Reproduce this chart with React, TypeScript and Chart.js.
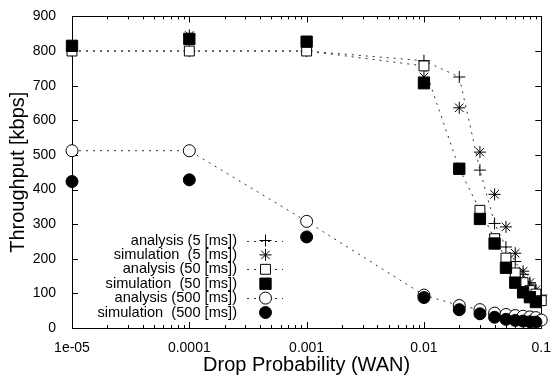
import { useEffect, useRef } from 'react';
import { Chart, registerables } from 'chart.js';
Chart.register(...registerables);

const dropProb = [1e-5, 1e-4, 1e-3, 0.01, 0.02, 0.03, 0.04, 0.05, 0.06, 0.07, 0.08, 0.09, 0.1];
const analysis5 = [800, 800, 800, 772, 725, 456, 302, 234, 192, 155, 127, 108, 95];
const simulation5 = [805, 845, 825, 725, 636, 508, 386, 292, 216, 164, 131, 110, null];
const analysis50 = [800, 800, 800, 757, 460, 340, 258, 202, 159, 131, 108, 98, 79];
const simulation50 = [815, 835, 827, 707, 460, 315, 244, 174, 131, 103, 89, 75, null];
const analysis500 = [512, 512, 308, 95, 65, 53, 43, 39, 36, 34, 32, 30, 23];
const simulation500 = [423, 428, 263, 88, 53, 41, 31, 25, 22, 20, 18, 17, null];

const seriesLabels = [
  'analysis (5 [ms])',
  'simulation  (5 [ms])',
  'analysis (50 [ms])',
  'simulation  (50 [ms])',
  'analysis (500 [ms])',
  'simulation  (500 [ms])',
];
const xTickValues = [1e-5, 1e-4, 1e-3, 0.01, 0.1];
const xTickLabels = ['1e-05', '0.0001', '0.001', '0.01', '0.1'];
const yTickValues = [0, 100, 200, 300, 400, 500, 600, 700, 800, 900];

const FONT = '"Liberation Sans", Arial, Helvetica, sans-serif';

type Style = { pointStyle: string; radius: number; fill: string; line: boolean };
const styles: Style[] = [
  { pointStyle: 'cross', radius: 6, fill: '#000', line: true },
  { pointStyle: 'star', radius: 6, fill: '#000', line: false },
  { pointStyle: 'rect', radius: 7, fill: '#fff', line: true },
  { pointStyle: 'rect', radius: 8, fill: '#000', line: false },
  { pointStyle: 'circle', radius: 6, fill: '#fff', line: true },
  { pointStyle: 'circle', radius: 6, fill: '#000', line: false },
];

function drawMarker(ctx: CanvasRenderingContext2D, st: Style, x: number, y: number) {
  ctx.save();
  ctx.strokeStyle = '#000';
  ctx.fillStyle = st.fill;
  ctx.lineWidth = 1;
  ctx.beginPath();
  const r = st.radius;
  if (st.pointStyle === 'circle') {
    ctx.arc(x, y, r, 0, Math.PI * 2);
    ctx.fill();
    ctx.stroke();
  } else if (st.pointStyle === 'rect') {
    const s = Math.SQRT1_2 * r;
    ctx.rect(x - s, y - s, 2 * s, 2 * s);
    ctx.fill();
    ctx.stroke();
  } else if (st.pointStyle === 'cross') {
    ctx.moveTo(x - r, y); ctx.lineTo(x + r, y);
    ctx.moveTo(x, y - r); ctx.lineTo(x, y + r);
    ctx.stroke();
  } else if (st.pointStyle === 'star') {
    ctx.moveTo(x - r, y); ctx.lineTo(x + r, y);
    ctx.moveTo(x, y - r); ctx.lineTo(x, y + r);
    const d = r * Math.SQRT1_2;
    ctx.moveTo(x - d, y - d); ctx.lineTo(x + d, y + d);
    ctx.moveTo(x - d, y + d); ctx.lineTo(x + d, y - d);
    ctx.stroke();
  }
  ctx.restore();
}

const framePlugin = {
  id: 'frame',
  beforeDatasetsDraw(chart: any) {
    const { ctx, chartArea: a, scales } = chart;
    const xs = scales.x, ys = scales.y;
    ctx.save();
    ctx.strokeStyle = '#000';
    ctx.lineWidth = 1;
    ctx.strokeRect(Math.round(a.left) + 0.5, Math.round(a.top) + 0.5, Math.round(a.right - a.left), Math.round(a.bottom - a.top));
    ctx.beginPath();
    for (const v of yTickValues) {
      const py = Math.round(ys.getPixelForValue(v)) + 0.5;
      ctx.moveTo(a.left, py); ctx.lineTo(a.left + 6, py);
      ctx.moveTo(a.right, py); ctx.lineTo(a.right - 6, py);
    }
    for (let i = 0; i < xTickValues.length; i++) {
      const dec = xTickValues[i];
      const px = Math.round(xs.getPixelForValue(dec)) + 0.5;
      ctx.moveTo(px, a.bottom); ctx.lineTo(px, a.bottom - 6);
      ctx.moveTo(px, a.top); ctx.lineTo(px, a.top + 6);
      if (i < xTickValues.length - 1) {
        for (let m = 2; m <= 9; m++) {
          const mx = Math.round(xs.getPixelForValue(dec * m)) + 0.5;
          ctx.moveTo(mx, a.bottom); ctx.lineTo(mx, a.bottom - 3);
          ctx.moveTo(mx, a.top); ctx.lineTo(mx, a.top + 3);
        }
      }
    }
    ctx.stroke();
    ctx.restore();
  },
  afterDatasetsDraw(chart: any) {
    const { ctx } = chart;
    ctx.save();
    ctx.font = `14.6px ${FONT}`;
    ctx.fillStyle = '#000';
    ctx.textAlign = 'right';
    ctx.textBaseline = 'middle';
    for (let i = 0; i < seriesLabels.length; i++) {
      const y = 240.5 + i * 14.4;
      ctx.fillText(seriesLabels[i], 237, y);
      const st = styles[i];
      if (st.line) {
        ctx.save();
        ctx.strokeStyle = '#333';
        ctx.lineWidth = 1;
        ctx.setLineDash([2, 5]);
        ctx.beginPath();
        ctx.moveTo(247, Math.round(y) + 0.5);
        ctx.lineTo(283, Math.round(y) + 0.5);
        ctx.stroke();
        ctx.restore();
      }
      drawMarker(ctx, st, 265.5, y);
    }
    ctx.restore();
  },
};

export default function App() {
  const ref = useRef<HTMLCanvasElement>(null);
  useEffect(() => {
    document.body.style.margin = '0';
    const series = [analysis5, simulation5, analysis50, simulation50, analysis500, simulation500];
    const datasets = series.map((vals, i) => {
      const st = styles[i];
      return {
        label: seriesLabels[i],
        data: dropProb.map((x, j) => ({ x, y: vals[j] })).filter((p) => p.y !== null),
        showLine: st.line,
        borderColor: '#333',
        borderWidth: 1,
        borderDash: [2, 5],
        pointStyle: st.pointStyle,
        pointRadius: st.radius,
        pointBackgroundColor: st.fill,
        pointBorderColor: '#000',
        pointBorderWidth: 1,
        clip: false,
        order: 10 - i,
      };
    });
    const chart = new Chart(ref.current!, {
      type: 'scatter',
      data: { datasets } as any,
      plugins: [framePlugin],
      options: {
        animation: false,
        responsive: false,
        layout: { padding: { top: 10, right: 11, left: 0, bottom: 0 } },
        plugins: { legend: { display: false }, tooltip: { enabled: false } },
        scales: {
          x: {
            type: 'logarithmic',
            min: 1e-5,
            max: 0.1,
            grid: { display: false },
            border: { display: false },
            afterBuildTicks: (s: any) => {
              s.ticks = xTickValues.map((v) => ({ value: v }));
            },
            afterFit: (s: any) => { s.height = 54; },
            ticks: {
              autoSkip: false,
              maxRotation: 0,
              padding: 4,
              color: '#000',
              font: { family: FONT, size: 14 },
              callback: (v: any) => {
                const idx = xTickValues.findIndex((t) => Math.abs(t - v) / t < 1e-6);
                return idx >= 0 ? xTickLabels[idx] : '';
              },
            },
            title: {
              display: true,
              text: 'Drop Probability (WAN)',
              color: '#000',
              font: { family: FONT, size: 20 },
              padding: 5,
            },
          },
          y: {
            min: 0,
            max: 900,
            grid: { display: false },
            border: { display: false },
            afterBuildTicks: (s: any) => {
              s.ticks = yTickValues.map((v) => ({ value: v }));
            },
            afterFit: (s: any) => { s.width = 72; },
            ticks: {
              padding: 8,
              color: '#000',
              font: { family: FONT, size: 14 },
            },
            title: {
              display: true,
              text: 'Throughput [kbps]',
              color: '#000',
              font: { family: FONT, size: 20 },
              padding: 6,
            },
          },
        },
      },
    } as any);
    return () => chart.destroy();
  }, []);
  return (
    <canvas
      ref={ref}
      width={555}
      height={382}
      style={{ position: 'fixed', left: 0, top: 0, display: 'block', width: 555, height: 382 }}
    />
  );
}
